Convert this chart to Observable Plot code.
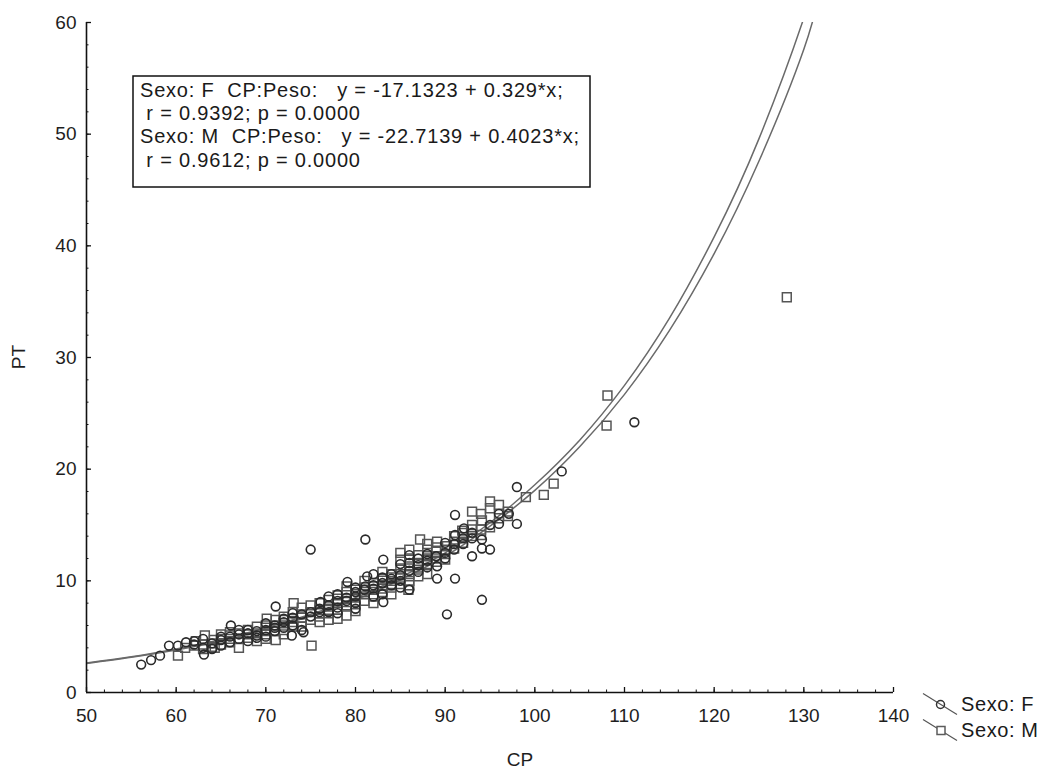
<!DOCTYPE html>
<html><head><meta charset="utf-8">
<script src="https://cdn.jsdelivr.net/npm/d3@7"></script>
<script src="https://cdn.jsdelivr.net/npm/@observablehq/plot@0.6"></script>
<style>
body{margin:0;background:#fff;}
svg{font-family:"Liberation Sans",Arial,sans-serif;}
</style>
</head><body><div id="chart"></div>
<script>
// tick labels
const xTicks = [50,60,70,80,90,100,110,120,130,140];
const yTicks = [0,10,20,30,40,50,60];
const xMinor = [50,52,54,56,58,60,62,64,66,68,70,72,74,76,78,80,82,84,86,88,90,92,94,96,98,100,102,104,106,108,110,112,114,116,118,120,122,124,126,128,130,132,134,136,138,140];
const yMinor = [0,2,4,6,8,10,12,14,16,18,20,22,24,26,28,30,32,34,36,38,40,42,44,46,48,50,52,54,56,58,60];

// series: Sexo F (circles) [CP, PT]
const femPoints = [[56.1,2.5],[57.2,2.9],[58.2,3.3],[59.2,4.2],[60.2,4.2],[61.1,4.5],[62,4.3],[62,4.6],[63.1,3.4],[63,4.0],[63,4.8],[64,4.4],[64,3.9],[65,4.7],[65,5.0],[65,4.2],[66,5.0],[66,4.5],[66.1,6.0],[67,5.2],[67,4.8],[67,5.6],[68,5.3],[68,4.6],[68,5.6],[69,5.5],[69,4.9],[69,5.1],[70,5.6],[70,6.2],[70,5.0],[71,6.0],[71,5.5],[71,5.8],[71.1,7.7],[72,6.3],[72,5.8],[72,6.6],[72.9,5.1],[73,6.7],[73,6.0],[73,7.1],[74,7.0],[74.2,5.4],[74,5.6],[75,7.2],[75,6.8],[75,12.8],[76,7.5],[76,7.2],[76.1,8.1],[77,7.8],[77,7.2],[77,8.6],[78,8.2],[78,7.6],[78,8.8],[78,7.1],[79.1,9.9],[79,8.5],[79,8.2],[80,8.6],[80,9.0],[80,8.0],[80,9.4],[80,7.5],[81.3,10.4],[81.1,9.5],[81,9.2],[81.1,13.7],[82,9.6],[82,8.6],[82,9.3],[82,10.6],[83.1,11.9],[83.1,8.1],[83,9.8],[83,10.3],[83,8.8],[84,10.2],[84,9.6],[84,10.6],[85,10.5],[85,10.0],[85,11.5],[85,9.4],[86,9.2],[86,10.9],[86,11.6],[86,12.3],[87,11.4],[87,12.0],[87,10.8],[88,11.8],[88,11.2],[88,12.4],[89.1,11.3],[89.1,10.2],[89,12.2],[90.2,7.0],[90,12.5],[90,12.0],[90,13.4],[91.1,10.2],[91.1,15.9],[91.1,14.1],[91,12.8],[91,13.3],[92.1,14.7],[92,13.3],[92,13.8],[93,12.2],[93,13.8],[93,14.3],[94.1,13.7],[94.1,12.9],[94.1,8.3],[95,12.8],[95,15.0],[96,15.1],[96,16.0],[97.1,16.0],[98,18.4],[98,15.1],[103,19.8],[111.1,24.2]];

// series: Sexo M (squares) [CP, PT]
const masPoints = [[60.2,3.3],[61,4.0],[62.2,4.6],[62,4.2],[63.2,5.1],[63,4.3],[63,3.9],[64.2,4.7],[64.3,4.0],[64,4.4],[64,4.1],[65,4.8],[65,4.3],[65,5.2],[66,4.5],[66,5.1],[66,4.8],[66,5.4],[67,5.3],[67,4.0],[67,4.8],[68,5.2],[68,5.6],[68,4.9],[69,5.3],[69,4.6],[69,5.9],[70.1,6.6],[70,5.5],[70,4.8],[70,5.2],[70,6.0],[71.1,6.5],[71.1,4.7],[71,6.0],[71,5.5],[72,6.2],[72,5.6],[72,6.8],[72,6.5],[72,5.2],[73.1,8.0],[73.1,5.9],[73,6.6],[73,7.2],[73,6.3],[74,7.0],[74,6.3],[74,7.6],[74,6.7],[74,5.9],[75.1,4.2],[75,7.2],[75,6.5],[75,7.8],[76,7.4],[76,6.8],[76,8.0],[76,7.1],[76,6.3],[77,7.7],[77,7.1],[77,8.3],[77,7.4],[77,6.5],[78,8.0],[78,7.4],[78,8.7],[78,8.4],[78,6.6],[79,8.4],[79,7.8],[79,9.0],[79,8.1],[79,6.9],[79,9.5],[80,8.5],[80,7.9],[80,9.2],[80,8.8],[80,7.3],[81,8.8],[81,9.4],[81,8.2],[81,9.0],[81,10.0],[82,9.2],[82,9.8],[82,8.6],[82,9.5],[82,8.0],[83,9.6],[83,10.2],[83,9.0],[83,9.3],[83,10.8],[84,10.0],[84,9.4],[84,10.6],[84,9.7],[84,10.3],[84,8.8],[85,11.9],[85,11.0],[85,10.3],[85,9.7],[85,10.6],[85,12.5],[86,12.8],[85.9,9.2],[86,10.6],[86,11.3],[86,10.0],[86,11.9],[86,9.6],[87.2,13.7],[87,11.6],[87,11.0],[87,12.3],[87,10.4],[88,12.8],[88,11.5],[88,12.2],[88,11.9],[88,10.6],[88,13.3],[89.1,13.5],[89,12.0],[89,12.6],[89,11.7],[89,13.0],[90.2,13.1],[90,12.4],[90,11.9],[90,12.8],[91,12.9],[91,13.5],[91,14.0],[91.9,14.5],[92,13.4],[92,13.9],[92,14.3],[93,16.2],[93,14.0],[93,14.6],[93,15.0],[94.1,15.4],[94,14.6],[94,14.1],[94,16.0],[95,17.1],[95,16.5],[95,14.8],[96,16.8],[96,15.6],[97,16.2],[97,15.8],[99,17.5],[101,17.7],[102.1,18.7],[108,23.9],[108.1,26.6],[128.1,35.4]];

// fitted curves
const curveCP = [50,55,60,65,70,75,80,85,90,95,100,105,110,115,120,125,130,132];
const curveF  = [2.65,3.2,3.9,4.75,5.8,7.0,8.5,10.3,12.5,15.2,18.6,22.6,27.5,33.5,40.8,49.6,60.4,66];
const curveM  = [2.6,3.15,3.8,4.6,5.65,6.85,8.3,10.1,12.2,14.9,18.1,22.0,26.7,32.4,39.3,47.6,57.6,63.5];

const annotation = [
  "Sexo: F  CP:Peso:   y = -17.1323 + 0.329*x;",
  " r = 0.9392; p = 0.0000",
  "Sexo: M  CP:Peso:   y = -22.7139 + 0.4023*x;",
  " r = 0.9612; p = 0.0000"
];
const legendLabels = ["Sexo: F", "Sexo: M"];

const fem = femPoints.map(([cp, pt]) => ({cp, pt}));
const mas = masPoints.map(([cp, pt]) => ({cp, pt}));
const fitF = curveCP.map((cp, i) => ({cp, pt: curveF[i]}));
const fitM = curveCP.map((cp, i) => ({cp, pt: curveM[i]}));

const W = 1047, H = 774;
const plot = Plot.plot({
  width: W, height: H,
  marginLeft: 86, marginRight: 154, marginTop: 22, marginBottom: 82,
  style: {fontFamily: '"Liberation Sans", Arial, sans-serif', fontSize: "19px", color: "#1e1e1e", background: "#fff"},
  x: {domain: [50, 140]},
  y: {domain: [0, 60]},
  marks: [
    Plot.line(fitF, {x: "cp", y: "pt", stroke: "#6a6a6a", strokeWidth: 1.5, curve: "natural", clip: true}),
    Plot.line(fitM, {x: "cp", y: "pt", stroke: "#6a6a6a", strokeWidth: 1.5, curve: "natural", clip: true}),
    Plot.dot(mas, {x: "cp", y: "pt", symbol: "square", r: 5.0, fill: "none", stroke: "#555", strokeWidth: 1.5}),
    Plot.dot(fem, {x: "cp", y: "pt", symbol: "circle", r: 4.4, fill: "none", stroke: "#2a2a2a", strokeWidth: 1.6}),
    Plot.axisX({ticks: xTicks, tickSize: 0, tickPadding: 16, label: null, fontSize: 19}),
    Plot.axisX({ticks: xTicks, tickSize: -5, text: null, label: null, stroke: "#111", strokeWidth: 1.3}),
    Plot.axisX({ticks: xMinor, tickSize: -2.5, text: null, label: null, stroke: "#111"}),
    Plot.axisY({ticks: yTicks, tickSize: 0, tickPadding: 10, label: null, fontSize: 19}),
    Plot.axisY({ticks: yTicks, tickSize: -5, text: null, label: null, stroke: "#111", strokeWidth: 1.3}),
    Plot.axisY({ticks: yMinor, tickSize: -2.5, text: null, label: null, stroke: "#111"}),
    Plot.ruleY([0], {stroke: "#111", strokeWidth: 1.6}),
    Plot.ruleX([50], {stroke: "#111", strokeWidth: 1.6})
  ]
});
document.getElementById("chart").appendChild(plot);

const svg = d3.select(plot);
const xs = plot.scale("x"), ys = plot.scale("y");
const x1 = xs.apply(140), y0 = ys.apply(0), y1 = ys.apply(60);

// axis titles
svg.append("text").attr("x", 520).attr("y", 766).attr("text-anchor", "middle")
  .attr("font-size", 19).attr("fill", "#1e1e1e").text("CP");
svg.append("text").attr("transform", `translate(25,${(y0 + y1) / 2}) rotate(-90)`)
  .attr("text-anchor", "middle").attr("font-size", 19).attr("fill", "#1e1e1e").text("PT");

// annotation box
const box = svg.append("g");
box.append("rect").attr("x", 133).attr("y", 76).attr("width", 457).attr("height", 111)
  .attr("fill", "#fff").attr("stroke", "#111").attr("stroke-width", 1.5);
annotation.forEach((t, i) => {
  box.append("text").attr("x", 140).attr("y", 97 + i * 23.2).attr("font-size", 20)
    .attr("letter-spacing", 0.8).attr("text-anchor", "start").attr("fill", "#1a1a1a")
    .style("white-space", "pre").attr("xml:space", "preserve").text(t);
});

// legend (bottom right)
const lg = svg.append("g");
const lx = x1 + 30;
[0, 1].forEach(i => {
  const cy = y0 + 12.5 + i * 26;
  lg.append("line").attr("x1", lx).attr("y1", cy - 11).attr("x2", lx + 34).attr("y2", cy + 10)
    .attr("stroke", "#555").attr("stroke-width", 1.2);
  if (i === 0) {
    lg.append("circle").attr("cx", lx + 17.5).attr("cy", cy).attr("r", 4).attr("fill", "none")
      .attr("stroke", "#333").attr("stroke-width", 1.5);
  } else {
    lg.append("rect").attr("x", lx + 14).attr("y", cy - 4).attr("width", 8).attr("height", 8)
      .attr("fill", "#fff").attr("stroke", "#5c5c5c").attr("stroke-width", 1.5);
  }
  lg.append("text").attr("x", lx + 38).attr("y", cy + 6).attr("font-size", 20)
    .attr("letter-spacing", 0.6).attr("text-anchor", "start").attr("fill", "#1a1a1a").text(legendLabels[i]);
});
</script>
</body></html>
